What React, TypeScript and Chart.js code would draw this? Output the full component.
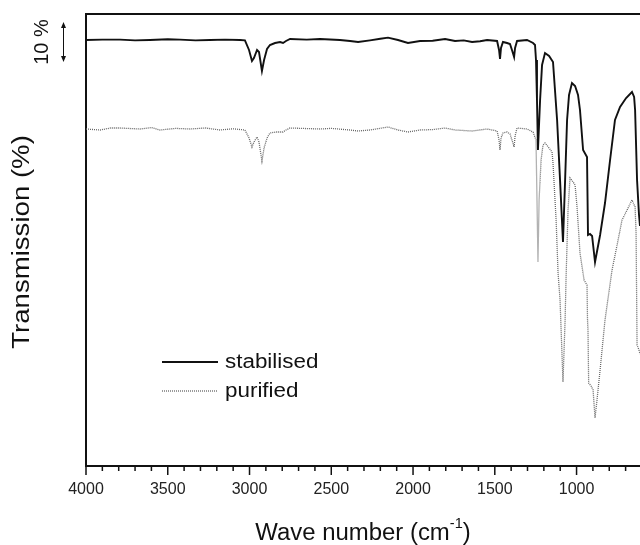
import React, { useEffect, useRef } from 'react';
import { Chart, registerables } from 'chart.js';

Chart.register(...registerables);

// ---- Data (wave number in cm^-1, transmission in % units, offset spectra) ----
const stabilisedWavenumbers = [
  4000, 3900, 3792, 3700, 3609, 3500, 3425, 3330, 3242, 3150, 3058, 3028, 3003, 2985, 2973, 2954, 2942, 2924, 2911, 2893,
  2875, 2844, 2813, 2795, 2777, 2752, 2650, 2569, 2447, 2385, 2336, 2263, 2200, 2153, 2092, 2031, 1957, 1880, 1804, 1743,
  1690, 1639, 1590, 1547, 1486, 1474, 1468, 1462, 1450, 1425, 1407, 1395, 1382, 1376, 1364, 1303, 1266, 1254, 1248, 1242,
  1236, 1223, 1211, 1193, 1168, 1144, 1119, 1101, 1083, 1070, 1058, 1046, 1028, 1009, 991, 979, 960, 936, 930, 918,
  905, 887, 856, 826, 795, 765, 734, 697, 661, 648, 642, 630, 618, 612,
];
const stabilisedTransmission = [
  106.5, 106.6, 106.6, 106.4, 106.5, 106.7, 106.6, 106.4, 106.5, 106.6, 106.5, 106.4, 104, 101.25, 102, 104, 103.5, 98.75, 101.5, 104.25,
  105.25, 105.75, 106, 105.75, 106.25, 106.75, 106.6, 106.75, 106.5, 106.25, 106, 106.4, 106.8, 107.1, 106.5, 105.75, 106.25, 106.3, 106.75, 106.25,
  106.4, 106, 106.2, 106.5, 106.25, 104, 101.75, 104.5, 106, 105.75, 105.5, 104, 102.25, 104.5, 106.25, 106.5, 105.75, 105.25, 101.5, 91.5,
  79, 91.5, 100.25, 103.25, 102.5, 101, 86.5, 71.5, 56, 71.5, 86.5, 92.75, 95.75, 95, 92.75, 89, 79, 77.25, 57.75, 58,
  57.5, 51, 57.75, 65.75, 76.5, 86.5, 89.75, 92, 93.5, 92.25, 89, 71.5, 62.75, 60,
];

const purifiedWavenumbers = [
  4000, 3914, 3850, 3792, 3670, 3600, 3547, 3450, 3364, 3270, 3180, 3100, 3028, 3003, 2985, 2973, 2954, 2942, 2924, 2911,
  2893, 2875, 2838, 2795, 2777, 2752, 2569, 2500, 2385, 2336, 2263, 2153, 2092, 2031, 1957, 1880, 1804, 1743, 1639, 1547,
  1486, 1474, 1468, 1462, 1450, 1425, 1407, 1395, 1382, 1376, 1364, 1303, 1266, 1248, 1242, 1236, 1229, 1217, 1205, 1193,
  1168, 1150, 1144, 1125, 1113, 1101, 1083, 1070, 1064, 1052, 1040, 1021, 1009, 997, 979, 954, 936, 933, 930, 926,
  911, 899, 887, 875, 856, 826, 783, 752, 722, 691, 661, 642, 636, 630, 618, 612,
];
const purifiedTransmission = [
  84.25, 84, 84.5, 84.5, 84.25, 84.6, 84, 84.4, 84.25, 84.5, 84, 84.3, 84, 82, 79.75, 81, 82.25, 81, 76.25, 79.5,
  82, 83.25, 83.5, 83.5, 84, 84.5, 84.25, 84.4, 84, 83.75, 84, 84.75, 84, 83.5, 84, 84.1, 84.5, 84, 83.75, 84.25,
  83.75, 81.5, 79, 82, 83.25, 83.5, 83, 81.5, 79.75, 82.5, 84.5, 84.25, 83.5, 81.5, 66.5, 51, 66.5, 76.5, 80.25, 80.75,
  79.5, 78.5, 75.75, 61.5, 48.25, 41.5, 21, 36.5, 47.25, 64, 72, 71, 70.25, 64.75, 53.25, 46.5, 45.25, 36.5, 34, 20.75,
  20, 19, 12, 16.5, 24, 36.5, 49, 55.25, 61.5, 64, 66.5, 64.75, 58.25, 30.25, 29, 28,
];

const xMajorTicks = [4000, 3500, 3000, 2500, 2000, 1500, 1000];
const xMinorTicks = [
  3900, 3800, 3700, 3600, 3400, 3300, 3200, 3100, 2900, 2800, 2700, 2600, 2400, 2300, 2200, 2100,
  1900, 1800, 1700, 1600, 1400, 1300, 1200, 1100, 900, 800, 700,
];
const scaleBarRange = [101, 111]; // 10 % bar
const seriesLabels = ['stabilised', 'purified'];
const xTitle = 'Wave number (cm';
const xTitleSup = '-1';
const yTitle = 'Transmission (%)';
const scaleBarLabel = '10 %';

const FONT = "'Liberation Sans', Arial, Helvetica, sans-serif";

function drawScaledText(ctx: CanvasRenderingContext2D, text: string, x: number, y: number, font: string, sx: number, align: CanvasTextAlign = 'left') {
  ctx.save();
  ctx.font = font;
  ctx.textAlign = align;
  ctx.textBaseline = 'alphabetic';
  ctx.translate(x, y);
  ctx.scale(sx, 1);
  ctx.fillText(text, 0, 0);
  ctx.restore();
}

const decorations = {
  id: 'decorations',
  afterDraw(chart: any) {
    const { ctx, chartArea: ca, scales } = chart;
    const x = scales.x;
    const y = scales.y;
    ctx.save();
    ctx.strokeStyle = '#111';
    ctx.fillStyle = '#111';
    // top frame line
    ctx.lineWidth = 2;
    ctx.beginPath();
    ctx.moveTo(ca.left - 1, ca.top);
    ctx.lineTo(ca.right, ca.top);
    ctx.stroke();
    // x ticks (outside)
    ctx.lineWidth = 1.5;
    for (const v of xMajorTicks) {
      const px = x.getPixelForValue(v);
      ctx.beginPath();
      ctx.moveTo(px, ca.bottom);
      ctx.lineTo(px, ca.bottom + 9);
      ctx.stroke();
    }
    for (const v of xMinorTicks) {
      const px = x.getPixelForValue(v);
      ctx.beginPath();
      ctx.moveTo(px, ca.bottom);
      ctx.lineTo(px, ca.bottom + 5);
      ctx.stroke();
    }

    // x title with superscript
    const mainFont = `23px ${FONT}`;
    const supFont = `14px ${FONT}`;
    ctx.font = mainFont;
    const w1 = ctx.measureText(xTitle).width;
    const w3 = ctx.measureText(')').width;
    ctx.font = supFont;
    const w2 = ctx.measureText(xTitleSup).width;
    const sx = 1.04;
    const total = (w1 + w2 + w3) * sx;
    const cx = (ca.left + ca.right) / 2;
    let tx = cx - total / 2;
    const base = 540;
    drawScaledText(ctx, xTitle, tx, base, mainFont, sx);
    tx += w1 * sx;
    drawScaledText(ctx, xTitleSup, tx, base - 12, supFont, sx);
    tx += w2 * sx;
    drawScaledText(ctx, ')', tx, base, mainFont, sx);

    // y title (rotated)
    ctx.save();
    ctx.translate(29, 242);
    ctx.rotate(-Math.PI / 2);
    drawScaledText(ctx, yTitle, 0, 0, `23px ${FONT}`, 1.2, 'center');
    ctx.restore();

    // 10 % scale bar
    const yTop = y.getPixelForValue(scaleBarRange[1]);
    const yBot = y.getPixelForValue(scaleBarRange[0]);
    ctx.save();
    ctx.translate(48, (yTop + yBot) / 2);
    ctx.rotate(-Math.PI / 2);
    drawScaledText(ctx, scaleBarLabel, 0, 0, `20px ${FONT}`, 1.0, 'center');
    ctx.restore();
    const ax = 63.5;
    ctx.lineWidth = 1;
    ctx.beginPath();
    ctx.moveTo(ax, yTop + 3);
    ctx.lineTo(ax, yBot - 3);
    ctx.stroke();
    ctx.beginPath();
    ctx.moveTo(ax, yTop);
    ctx.lineTo(ax - 2.5, yTop + 6);
    ctx.lineTo(ax + 2.5, yTop + 6);
    ctx.closePath();
    ctx.fill();
    ctx.beginPath();
    ctx.moveTo(ax, yBot);
    ctx.lineTo(ax - 2.5, yBot - 6);
    ctx.lineTo(ax + 2.5, yBot - 6);
    ctx.closePath();
    ctx.fill();

    // legend
    const ds = chart.data.datasets;
    const legendRows = [362, 391];
    ds.forEach((d: any, i: number) => {
      const ly = legendRows[i];
      ctx.save();
      ctx.strokeStyle = d.borderColor;
      ctx.lineWidth = d.borderWidth;
      ctx.setLineDash(d.borderDash || []);
      ctx.beginPath();
      ctx.moveTo(162, ly);
      ctx.lineTo(218, ly);
      ctx.stroke();
      ctx.restore();
      ctx.fillStyle = '#111';
      drawScaledText(ctx, d.label, 225, ly + 6, `20px ${FONT}`, 1.12);
    });
    ctx.restore();
  },
};

export default function App() {
  const canvasRef = useRef<HTMLCanvasElement | null>(null);

  useEffect(() => {
    const canvas = canvasRef.current;
    if (!canvas) return;
    const chart = new Chart(canvas, {
      type: 'line',
      data: {
        datasets: [
          {
            label: seriesLabels[0],
            data: stabilisedWavenumbers.map((w, i) => ({ x: w, y: stabilisedTransmission[i] })),
            borderColor: '#111111',
            borderWidth: 1.9,
            pointRadius: 0,
            tension: 0,
          },
          {
            label: seriesLabels[1],
            data: purifiedWavenumbers.map((w, i) => ({ x: w, y: purifiedTransmission[i] })),
            borderColor: '#666666',
            borderWidth: 1.3,
            borderDash: [1, 1],
            pointRadius: 0,
            tension: 0,
          },
        ],
      },
      options: {
        animation: false,
        responsive: false,
        maintainAspectRatio: false,
        devicePixelRatio: 1,
        layout: { padding: { top: 14, right: 0, left: 0, bottom: 0 } },
        plugins: {
          legend: { display: false },
          tooltip: { enabled: false },
        },
        scales: {
          x: {
            type: 'linear',
            reverse: true,
            min: 612,
            max: 4000,
            grid: { display: false, drawTicks: false },
            border: { display: true, color: '#111', width: 2 },
            afterBuildTicks: (scale: any) => {
              scale.ticks = xMajorTicks.map((v) => ({ value: v }));
            },
            afterFit: (scale: any) => {
              scale.height = 79;
            },
            ticks: {
              autoSkip: false,
              maxRotation: 0,
              padding: 14,
              color: '#222',
              font: { family: FONT, size: 16 },
              callback: (v: any) => String(v),
            },
          },
          y: {
            type: 'linear',
            min: 0,
            max: 113,
            grid: { display: false, drawTicks: false },
            border: { display: true, color: '#111', width: 2 },
            ticks: { display: false },
            afterFit: (scale: any) => {
              scale.width = 86;
            },
          },
        },
      },
      plugins: [decorations],
    });
    return () => chart.destroy();
  }, []);

  return (
    <div style={{ position: 'absolute', left: 0, top: 0, width: 640, height: 545, background: '#fff' }}>
      <canvas ref={canvasRef} width={640} height={545} style={{ display: 'block' }} />
    </div>
  );
}
